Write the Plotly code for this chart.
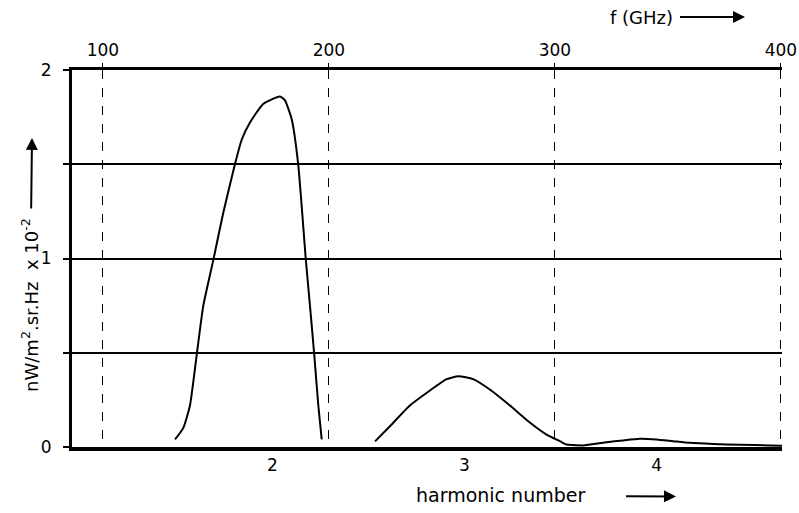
import plotly.graph_objects as go

# ---- data ----
freq_h2 = [131.9, 135.5, 138.5, 141.5, 144.4, 148.8, 153.2, 158.4, 161.4, 165.0,
           170.9, 178.3, 180.5, 183.5, 186.4, 189.8, 191.9, 193.5, 195.3, 196.8]
power_h2 = [0.04, 0.10, 0.22, 0.49, 0.75, 0.99, 1.24, 1.50, 1.63, 1.72,
            1.82, 1.86, 1.84, 1.74, 1.50, 0.99, 0.71, 0.49, 0.22, 0.04]

freq_h3 = [220.4, 227.0, 235.8, 244.7, 252.1, 257.2, 263.8, 271.2, 280.1, 288.9,
           296.3, 302.2, 305.2, 312.4]
power_h3 = [0.03, 0.11, 0.22, 0.30, 0.36, 0.375, 0.36, 0.305, 0.22, 0.13,
            0.066, 0.031, 0.013, 0.008]

freq_h4 = [312.4, 322.9, 330.0, 337.6, 345.0, 352.3, 359.7, 370.0, 382.0, 395.0, 403.0]
power_h4 = [0.008, 0.025, 0.035, 0.044, 0.040, 0.031, 0.022, 0.016, 0.012, 0.008, 0.006]

freq_ticks = [100, 200, 300, 400]
harmonic_pos = [175, 260, 345]
harmonic_labels = ["2", "3", "4"]
y_ticks = [0, 1, 2]

FONT = "DejaVu Sans"
XR = [86.3, 400.5]
PW = 710.0    # plot width in px
PH = 377.5    # plot height in px

fig = go.Figure()
for fx, py in [(freq_h2, power_h2), (freq_h3, power_h3), (freq_h4, power_h4)]:
    fig.add_trace(go.Scatter(x=fx, y=py, xaxis="x2", yaxis="y", mode="lines",
                             line=dict(color="black", width=2, shape="spline", smoothing=0.5),
                             showlegend=False, hoverinfo="skip", cliponaxis=True))

# invisible trace to activate bottom axis
fig.add_trace(go.Scatter(x=[XR[0]], y=[0], xaxis="x", yaxis="y", mode="markers",
                         marker=dict(opacity=0), showlegend=False, hoverinfo="skip"))

fig.update_layout(
    width=799, height=513,
    margin=dict(l=72, r=17, t=70, b=65.5),
    paper_bgcolor="white", plot_bgcolor="white",
    font=dict(family=FONT, size=16, color="black"),
    xaxis=dict(range=XR, tickvals=harmonic_pos, ticktext=harmonic_labels,
               showgrid=False, zeroline=False, showline=True, linecolor="black",
               linewidth=4, ticks="", automargin=False,
               tickfont=dict(size=17, family=FONT)),
    xaxis2=dict(range=XR, overlaying="x", side="top", tickvals=freq_ticks,
                showgrid=True, gridcolor="black", gridwidth=1, griddash="dash",
                zeroline=False, showline=True, linecolor="black", linewidth=3,
                ticks="outside", ticklen=4, tickcolor="black", tickwidth=1,
                automargin=False, tickfont=dict(size=17, family=FONT)),
    yaxis=dict(range=[0, 2], tickvals=y_ticks,
               showgrid=True, gridcolor="black", gridwidth=1.5,
               zeroline=False, showline=True, linecolor="black", linewidth=3,
               ticks="outside", ticklen=6, tickcolor="black", tickwidth=1.5,
               automargin=False, ticklabelstandoff=8,
               tickfont=dict(size=17, family=FONT),
               minor=dict(tickmode="linear", tick0=0, dtick=0.5, showgrid=True,
                          gridcolor="black", gridwidth=1.5, ticks="outside",
                          ticklen=6, tickcolor="black", tickwidth=1.5)),
)

# axis titles with arrows (arrow drawn from the title text to the head)
fig.add_annotation(xref="paper", yref="paper", x=(745 - 72) / PW, y=1 + (70 - 17) / PH,
                   ax=-104, ay=0, text="f (GHz)", showarrow=True, arrowhead=2,
                   arrowsize=1.2, arrowwidth=2, arrowcolor="black", startstandoff=6,
                   font=dict(size=18, family=FONT))

fig.add_annotation(xref="paper", yref="paper", x=(676 - 72) / PW, y=-(497 - 447.5) / PH,
                   ax=-176, ay=-1, text="harmonic number", showarrow=True, arrowhead=2,
                   arrowsize=1.2, arrowwidth=2, arrowcolor="black", startstandoff=40,
                   font=dict(size=19, family=FONT))

fig.add_annotation(xref="paper", yref="paper", x=(32 - 72) / PW, y=(447.5 - 138) / PH,
                   ax=-2, ay=167, text="nW/m<sup>2</sup>.sr.Hz  x 10<sup>-2</sup>",
                   showarrow=True, arrowhead=2, arrowsize=1.2, arrowwidth=2,
                   arrowcolor="black", startstandoff=8, textangle=-90,
                   font=dict(size=18, family=FONT))

fig.write_html("out.html")
